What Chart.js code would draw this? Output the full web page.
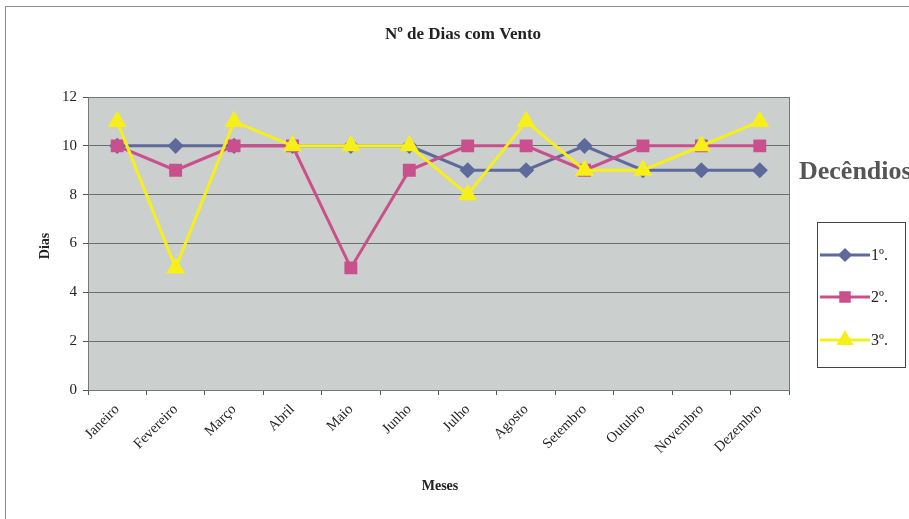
<!DOCTYPE html>
<html>
<head>
<meta charset="utf-8">
<script src="https://cdn.jsdelivr.net/npm/chart.js@4.4.1/dist/chart.umd.min.js"></script>
<style>
  html, body { margin: 0; padding: 0; background: #fff; }
  #wrap { width: 909px; height: 519px; position: relative; }
</style>
</head>
<body>
<div id="wrap"><canvas id="chart" width="909" height="519"></canvas></div>
<script>
const months = ['Janeiro', 'Fevereiro', 'Março', 'Abril', 'Maio', 'Junho',
  'Julho', 'Agosto', 'Setembro', 'Outubro', 'Novembro', 'Dezembro'];
const seriesNames = ['1º.', '2º.', '3º.'];
const decendio1 = [10, 10, 10, 10, 10, 10, 9, 9, 10, 9, 9, 9];
const decendio2 = [10, 9, 10, 10, 5, 9, 10, 10, 9, 10, 10, 10];
const decendio3 = [11, 5, 11, 10, 10, 10, 8, 11, 9, 9, 10, 11];
const yTicks = [0, 2, 4, 6, 8, 10, 12];

const SERIF = '"Liberation Serif", "DejaVu Serif", serif';
const colors = ['#5d6a9b', '#c9508c', '#f7ef1a'];
const markers = ['rectRot', 'rect', 'triangle'];
const markerSizes = [6, 7, 8];

// plot background, outer frame, title, axis titles and the legend box
const decor = {
  id: 'decor',
  beforeDraw(chart) {
    const { ctx, chartArea: a } = chart;
    ctx.save();
    ctx.fillStyle = '#fff';
    ctx.fillRect(0, 0, chart.width, chart.height);
    ctx.strokeStyle = '#8c8c8c';
    ctx.lineWidth = 1;
    ctx.strokeRect(5.5, 6.5, 920, 530);
    ctx.fillStyle = '#cbd0ce';
    ctx.fillRect(a.left, a.top, a.right - a.left, a.bottom - a.top);
    ctx.restore();
  },
  afterDraw(chart) {
    const { ctx, chartArea: a } = chart;
    ctx.save();
    ctx.strokeStyle = '#777';
    ctx.lineWidth = 1;
    ctx.strokeRect(Math.round(a.left) + 0.5, Math.round(a.top) + 0.5,
      Math.round(a.right - a.left), Math.round(a.bottom - a.top));

    ctx.fillStyle = '#222';
    ctx.textAlign = 'center';
    ctx.textBaseline = 'middle';
    ctx.font = 'bold 17px ' + SERIF;
    ctx.fillText('Nº de Dias com Vento', 463, 35);
    ctx.font = 'bold 14px ' + SERIF;
    ctx.fillText('Meses', 440, 486);
    ctx.save();
    ctx.translate(45, 246);
    ctx.rotate(-Math.PI / 2);
    ctx.fillText('Dias', 0, 0);
    ctx.restore();

    ctx.fillStyle = '#555';
    ctx.textAlign = 'left';
    ctx.font = 'bold 26px ' + SERIF;
    ctx.fillText('Decêndios', 799, 172);

    // legend box
    ctx.fillStyle = '#fff';
    ctx.fillRect(817, 222, 88, 145);
    ctx.strokeStyle = '#444';
    ctx.strokeRect(817.5, 222.5, 88, 145);
    const rows = [255, 297, 340];
    chart.data.datasets.forEach((ds, i) => {
      const y = rows[i];
      ctx.strokeStyle = ds.borderColor;
      ctx.lineWidth = 3;
      ctx.beginPath();
      ctx.moveTo(820, y);
      ctx.lineTo(870, y);
      ctx.stroke();
      Chart.helpers.drawPoint(ctx, {
        pointStyle: ds.pointStyle, radius: ds.pointRadius - 1, rotation: 0, borderWidth: 1
      }, 845, y);
      ctx.fillStyle = ds.borderColor;
      ctx.strokeStyle = ds.borderColor;
      ctx.fill();
      ctx.fillStyle = '#222';
      ctx.font = '16px ' + SERIF;
      ctx.fillText(ds.label, 871, y + 1);
    });
    ctx.restore();
  }
};

new Chart(document.getElementById('chart').getContext('2d'), {
  type: 'line',
  data: {
    labels: months,
    datasets: [decendio1, decendio2, decendio3].map((values, i) => ({
      label: seriesNames[i],
      data: values,
      order: 3 - i,
      borderColor: colors[i],
      backgroundColor: colors[i],
      pointBackgroundColor: colors[i],
      pointBorderColor: colors[i],
      pointStyle: markers[i],
      pointRadius: markerSizes[i],
      borderWidth: 3,
      tension: 0,
      fill: false
    }))
  },
  options: {
    responsive: false,
    animation: false,
    devicePixelRatio: 1,
    layout: { padding: { left: 38, right: 120, top: 97, bottom: 29 } },
    plugins: {
      legend: { display: false },
      title: { display: false },
      tooltip: { enabled: false }
    },
    scales: {
      x: {
        offset: true,
        afterFit(scale) { scale.height = 100; },
        grid: {
          display: true,
          offset: true,
          drawOnChartArea: false,
          drawTicks: true,
          tickLength: 5,
          color: '#555'
        },
        border: { color: '#555', width: 1 },
        ticks: {
          autoSkip: false,
          maxRotation: 45,
          minRotation: 45,
          padding: 6,
          color: '#222',
          font: { family: SERIF, size: 14.5 }
        }
      },
      y: {
        min: 0,
        max: 12,
        afterFit(scale) { scale.width = 50; },
        afterBuildTicks(scale) { scale.ticks = yTicks.map(v => ({ value: v })); },
        grid: {
          color: '#6a706b',
          lineWidth: 1,
          drawTicks: true,
          tickLength: 5,
          tickColor: '#555'
        },
        border: { color: '#555', width: 1 },
        ticks: {
          padding: 6,
          color: '#222',
          font: { family: SERIF, size: 15 }
        }
      }
    }
  },
  plugins: [decor]
});
</script>
</body>
</html>
